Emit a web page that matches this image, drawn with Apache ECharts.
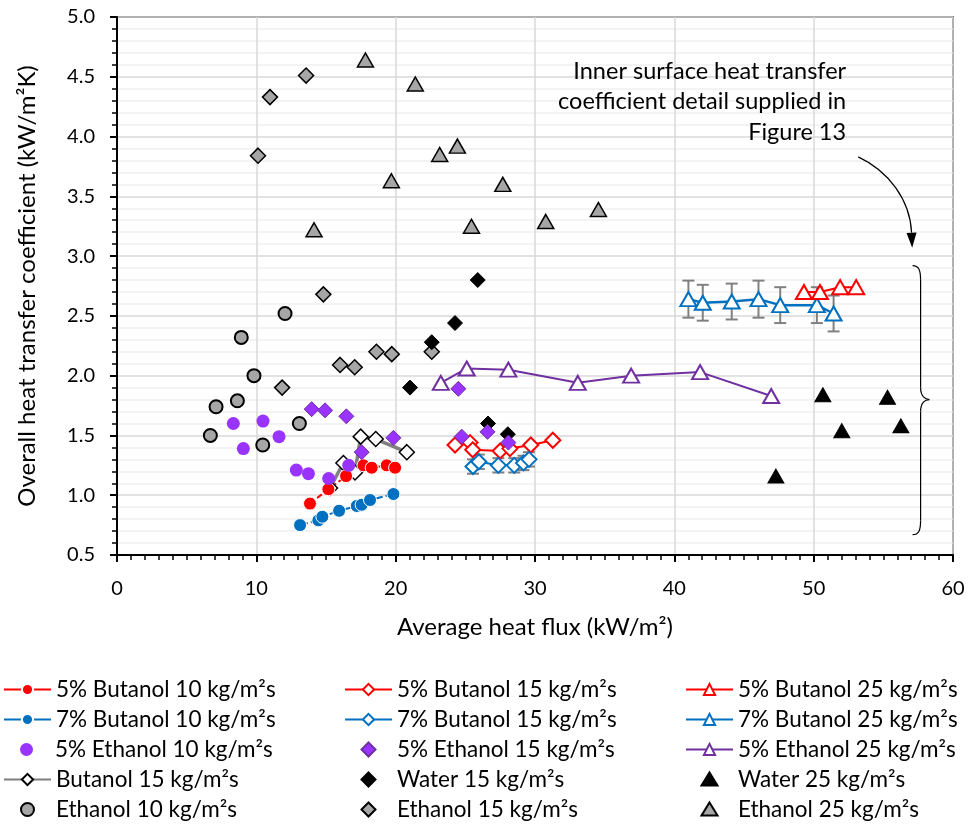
<!DOCTYPE html>
<html><head><meta charset="utf-8">
<script src="https://cdn.jsdelivr.net/npm/echarts@6/dist/echarts.min.js"></script>
<style>html,body{margin:0;padding:0;background:#fff}#c{width:968px;height:837px}</style>
</head><body><div id="c"></div>
<script>
// ---- Data (x = average heat flux kW/m2, y = overall HTC kW/m2K) ----
const but5_10 = [[13.85,0.93],[15.17,1.05],[16.44,1.16],[17.69,1.25],[18.28,1.23],[19.36,1.25],[19.96,1.23]];
const but7_10 = [[13.14,0.75],[14.45,0.79],[14.74,0.82],[15.94,0.87],[17.21,0.91],[17.56,0.92],[18.16,0.96],[19.84,1.01]];
const eth5_10 = [[8.35,1.60],[10.48,1.62],[9.07,1.39],[11.63,1.49],[12.87,1.21],[13.74,1.18],[15.19,1.14],[16.63,1.25]];
const butanol_15 = [[15.29,1.06],[16.25,1.27],[17.08,1.19],[17.49,1.49],[18.57,1.47],[20.80,1.36]];
const ethanol_10 = [[12.06,2.52],[8.92,2.32],[9.83,2.00],[7.11,1.74],[8.64,1.79],[6.70,1.50],[10.46,1.42],[13.09,1.60]];
const but5_15 = [[24.26,1.42],[25.34,1.44],[25.53,1.38],[27.50,1.37],[28.20,1.39],[29.70,1.42],[31.28,1.46]];
const but7_15 = [[25.55,1.24],[25.97,1.28],[27.37,1.25],[28.51,1.25],[29.17,1.27],[29.57,1.30]];
const but7_15_err = [0.06,0.06,0.06,0.06,0.06,0.06];
const eth5_15 = [[13.97,1.72],[14.93,1.71],[16.46,1.66],[17.56,1.36],[19.84,1.48],[24.50,1.89],[24.74,1.49],[26.59,1.53],[28.09,1.44]];
const water_15 = [[21.03,1.90],[22.59,2.28],[24.26,2.44],[25.89,2.80],[26.63,1.60],[28.05,1.51]];
const ethanol_15 = [[13.57,4.51],[10.98,4.33],[10.12,3.84],[14.81,2.68],[16.01,2.09],[17.06,2.07],[18.62,2.20],[19.72,2.18],[11.85,1.90],[22.59,2.20]];
const but5_25 = [[49.30,2.70],[50.45,2.70],[51.90,2.74],[53.05,2.74]];
const but7_25 = [[41.01,2.64],[42.04,2.61],[44.12,2.62],[46.04,2.64],[47.60,2.59],[50.23,2.59],[51.43,2.52]];
const but7_25_err = [0.155,0.15,0.15,0.155,0.15,0.15,0.15];
const eth5_25 = [[23.24,1.94],[25.10,2.06],[28.09,2.05],[33.07,1.94],[36.90,2.00],[41.85,2.03],[46.95,1.83]];
const water_25 = [[47.29,1.16],[50.66,1.84],[52.02,1.54],[55.30,1.82],[56.26,1.58]];
const ethanol_25 = [[17.83,4.64],[21.41,4.44],[19.69,3.63],[14.14,3.22],[24.43,3.92],[23.16,3.85],[27.69,3.60],[25.44,3.25],[30.77,3.29],[34.55,3.39]];

const names = {
  b5_10:'5% Butanol 10 kg/m²s', b7_10:'7% Butanol 10 kg/m²s', e5_10:'5% Ethanol 10 kg/m²s', b_15:'Butanol 15 kg/m²s', e_10:'Ethanol 10 kg/m²s',
  b5_15:'5% Butanol 15 kg/m²s', b7_15:'7% Butanol 15 kg/m²s', e5_15:'5% Ethanol 15 kg/m²s', w_15:'Water 15 kg/m²s', e_15:'Ethanol 15 kg/m²s',
  b5_25:'5% Butanol 25 kg/m²s', b7_25:'7% Butanol 25 kg/m²s', e5_25:'5% Ethanol 25 kg/m²s', w_25:'Water 25 kg/m²s', e_25:'Ethanol 25 kg/m²s'
};
const legendColumns = [
  ['b5_10','b7_10','e5_10','b_15','e_10'],
  ['b5_15','b7_15','e5_15','w_15','e_15'],
  ['b5_25','b7_25','e5_25','w_25','e_25']
];
const annotationText = 'Inner surface heat transfer\ncoefficient detail supplied in\nFigure 13';

const FONT = 'Lato';
const RED='#FF0000', BLUE='#0070C0', PURP='#9933FF', PURPD='#7030A0', GRAY='#A6A6A6', LGRAY='#7F7F7F';
const DIAMOND = 'path://M0,-1L1,0L0,1L-1,0Z';
const TRIANGLE = 'path://M0,-1L1,0.75L-1,0.75Z';
// legend icons for marker-only series: invisible extents keep the full icon width
const PAD = 'M-23.5,-7L-23.5,-7M23.5,7L23.5,7';
const LEG_ICON = {
  circle: 'path://' + PAD + 'M-6.5,0A6.5,6.5 0 1,0 6.5,0A6.5,6.5 0 1,0 -6.5,0Z',
  diamond: 'path://' + PAD + 'M0,-7L7,0L0,7L-7,0Z',
  triangle: 'path://' + PAD + 'M0,-7L8,6L-8,6Z'
};
const scatterIconOf = {e5_10:'circle', e_10:'circle', e5_15:'diamond', w_15:'diamond', e_15:'diamond', w_25:'triangle', e_25:'triangle'};

function errSeries(pts, errs){
  return {
    type:'custom', z:1, silent:true,
    data: pts.map((p,i)=>[p[0],p[1]-errs[i],p[1]+errs[i]]),
    renderItem(params, api){
      const lo = api.coord([api.value(0), api.value(1)]);
      const hi = api.coord([api.value(0), api.value(2)]);
      const w = 6;
      const st = {stroke:'#808080', lineWidth:2};
      return {type:'group', children:[
        {type:'line', shape:{x1:lo[0],y1:lo[1],x2:hi[0],y2:hi[1]}, style:st},
        {type:'line', shape:{x1:lo[0]-w,y1:lo[1],x2:lo[0]+w,y2:lo[1]}, style:st},
        {type:'line', shape:{x1:hi[0]-w,y1:hi[1],x2:hi[0]+w,y2:hi[1]}, style:st}
      ]};
    }
  };
}
function lineS(name, data, color, sym, size, fill, border, bw, lstyle){
  return {type:'line', name, data, symbol:sym, symbolSize:size, showSymbol:true, z:3,
    itemStyle:{color:fill, borderColor:border, borderWidth:bw, opacity:1},
    lineStyle:Object.assign({color, width:2}, lstyle||{}), emphasis:{disabled:true}, animation:false};
}
function scat(name, data, sym, size, fill, border, bw){
  return {type:'scatter', name, data, symbol:sym, symbolSize:size, z:4,
    itemStyle:{color:fill, borderColor:border, borderWidth:bw, opacity:1}, emphasis:{disabled:true}, animation:false};
}

const series = [
  errSeries(but7_15, but7_15_err),
  errSeries(but7_25, but7_25_err),
  scat(names.e_10, ethanol_10, 'circle', 13, GRAY, '#000', 2),
  scat(names.e_15, ethanol_15, DIAMOND, [15,15], GRAY, '#000', 1.5),
  scat(names.e_25, ethanol_25, TRIANGLE, [16,14], GRAY, '#000', 1.5),
  scat(names.w_15, water_15, DIAMOND, [15,15], '#000', '#000', 1),
  scat(names.w_25, water_25, TRIANGLE, [16,14], '#000', '#000', 1),
  lineS(names.e5_25, eth5_25, PURPD, TRIANGLE, [16,14], '#fff', PURPD, 2, {width:2}),
  lineS(names.b7_25, but7_25, BLUE, TRIANGLE, [16,14], '#fff', BLUE, 2, {width:2.5}),
  lineS(names.b5_25, but5_25, RED, TRIANGLE, [16,14], '#fff', RED, 2, {width:2}),
  scat(names.e5_15, eth5_15, DIAMOND, [15,15], PURP, PURPD, 1),
  lineS(names.b5_15, but5_15, RED, DIAMOND, [15,15], '#fff', RED, 2, {width:2}),
  lineS(names.b7_15, but7_15, BLUE, DIAMOND, [15,15], '#fff', BLUE, 2, {width:2}),
  scat(names.e5_10, eth5_10, 'circle', 13, PURP, PURP, 0),
  lineS(names.b_15, butanol_15, LGRAY, DIAMOND, [15,15], '#fff', '#000', 1.5, {width:3.5}),
  lineS(names.b5_10, but5_10, RED, 'circle', 13, RED, '#fff', 1, {width:2, type:[6,3]}),
  lineS(names.b7_10, but7_10, BLUE, 'circle', 13, BLUE, '#fff', 1, {width:2, type:[8,3,2,3]})
];

const legTxt = {fontFamily:FONT, fontSize:22.5, color:'#000'};
const colLeft = [3, 344, 685];
const legends = [];
legendColumns.forEach((col, ci) => col.forEach((k, ri) => {
  const item = {name:names[k], lineStyle:{type:'solid'}};
  if (scatterIconOf[k]) item.icon = LEG_ICON[scatterIconOf[k]];
  legends.push({orient:'vertical', left:colLeft[ci], top:678 + 30*ri, padding:0, itemWidth:47, itemHeight:14,
    symbolKeepAspect:true, textStyle:legTxt, selectedMode:false, data:[item]});
}));

const chart = echarts.init(document.getElementById('c'), null, {renderer:'canvas'});
chart.setOption({
  backgroundColor:'#fff', animation:false,
  grid:{left:117, right:15, top:17, bottom:282, show:true, borderColor:'#000', borderWidth:1.5, backgroundColor:'transparent'},
  xAxis:{type:'value', min:0, max:60, interval:10,
    name:'Average heat flux (kW/m²)', nameLocation:'middle', nameGap:60,
    nameTextStyle:{fontFamily:FONT, fontSize:24, color:'#000'},
    axisLine:{show:true, lineStyle:{color:'#000', width:2}},
    axisTick:{show:true, length:7, lineStyle:{color:'#000', width:2}},
    minorTick:{show:true, splitNumber:10, length:5, lineStyle:{color:'#000', width:1.5}},
    axisLabel:{fontFamily:FONT, fontSize:20, color:'#000', margin:24},
    splitLine:{show:true, lineStyle:{color:'#D9D9D9', width:1.5}}},
  yAxis:{type:'value', min:0.5, max:5.0, interval:0.5,
    name:'Overall heat transfer coefficient (kW/m²K)', nameLocation:'middle', nameGap:78,
    nameTextStyle:{fontFamily:FONT, fontSize:24, color:'#000'},
    axisLine:{show:true, lineStyle:{color:'#000', width:2}},
    axisTick:{show:true, length:7, lineStyle:{color:'#000', width:2}},
    minorTick:{show:true, splitNumber:5, length:5, lineStyle:{color:'#000', width:1.5}},
    axisLabel:{fontFamily:FONT, fontSize:20, color:'#000', margin:22, formatter:v=>v.toFixed(1)},
    splitLine:{show:true, lineStyle:{color:'#D9D9D9', width:1.5}},
    minorSplitLine:{show:true, lineStyle:{color:'#F0F0F0', width:1.5}}},
  legend: legends,
  series
});

// ---- Annotation (anchored in data coordinates) ----
const annoTextAt = [52.33, 4.546];   // right edge / first line centre
const arrowFrom = [53.2, 3.83], arrowTo = [57.07, 3.07];
const braceTop = [57.1, 2.92], braceBot = [57.1, 0.67], braceTip = [58.3, 1.80];
function P(d){ return chart.convertToPixel({gridIndex:0}, d); }
const t = P(annoTextAt), a0 = P(arrowFrom), a1 = P(arrowTo);
const bt = P(braceTop), bb = P(braceBot), tip = P(braceTip);
const bx = bt[0], mx = bx + 8, tx = tip[0];
const stroke = {stroke:'#000', lineWidth:1.2, fill:null};
function bez(x1,y1,c1x,c1y,c2x,c2y,x2,y2){
  return {type:'bezierCurve', z:10, silent:true, shape:{x1,y1,x2,y2,cpx1:c1x,cpy1:c1y,cpx2:c2x,cpy2:c2y}, style:stroke};
}
function seg(x1,y1,x2,y2){ return {type:'line', z:10, silent:true, shape:{x1,y1,x2,y2}, style:stroke}; }
const c1 = [a0[0]+30, a0[1]+14], c2 = [a1[0]-2, a1[1]-48];
const ang = Math.atan2(a1[1]-c2[1], a1[0]-c2[0]);
const L=15, W=5;
const base = [a1[0]-L*Math.cos(ang), a1[1]-L*Math.sin(ang)];
const arrowHead = [[a1[0],a1[1]],[base[0]+W*Math.sin(ang), base[1]-W*Math.cos(ang)],[base[0]-W*Math.sin(ang), base[1]+W*Math.cos(ang)]];
chart.setOption({graphic:[
  {type:'text', x:t[0], y:t[1]-15.25, z:10, silent:true, style:{text:annotationText, fontFamily:FONT, fontSize:23.5, lineHeight:30.5, fill:'#000', align:'right', verticalAlign:'top'}},
  bez(a0[0],a0[1], c1[0],c1[1], c2[0],c2[1], base[0],base[1]),
  {type:'polygon', z:10, silent:true, shape:{points:arrowHead}, style:{fill:'#000'}},
  bez(bx,bt[1], bx+6,bt[1], mx,bt[1]+4, mx,bt[1]+14),
  seg(mx,bt[1]+14, mx,tip[1]-12),
  bez(mx,tip[1]-12, mx,tip[1]-3, tx-4,tip[1], tx,tip[1]),
  bez(tx,tip[1], tx-4,tip[1], mx,tip[1]+3, mx,tip[1]+12),
  seg(mx,tip[1]+12, mx,bb[1]-14),
  bez(mx,bb[1]-14, mx,bb[1]-4, bx+6,bb[1], bx,bb[1])
]});
</script>
</body></html>
